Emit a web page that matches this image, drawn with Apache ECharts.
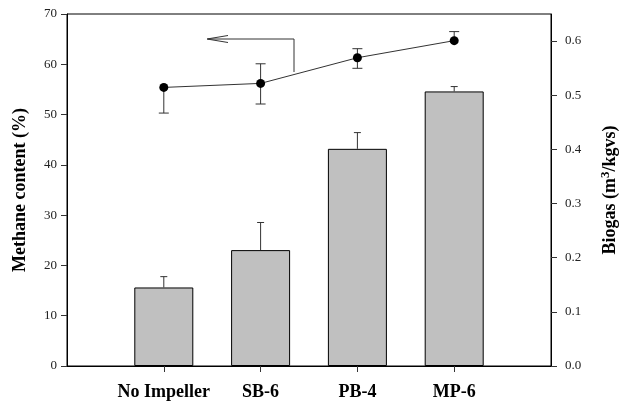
<!DOCTYPE html>
<html>
<head>
<meta charset="utf-8">
<script src="https://cdn.jsdelivr.net/npm/echarts@6/dist/echarts.min.js"></script>
<style>
  html, body { margin: 0; padding: 0; background: #fff; }
  #chart { width: 629px; height: 404px; }
</style>
</head>
<body>
<div id="chart"></div>
<script>
// impeller types, placed at x = 1..4 on a 0..5 axis
const categories = ['No Impeller', 'SB-6', 'PB-4', 'MP-6'];
const categoryPos = [1, 2, 3, 4];

// biogas yield (m3/kgVS), bars on right axis
const biogas = [0.145, 0.214, 0.401, 0.507];
const biogasErr = [0.020, 0.051, 0.030, 0.009];

// methane content (%), line on left axis
const methane = [55.4, 56.2, 61.3, 64.7];
const methaneErrLow = [5.1, 4.1, 2.1, 0];
const methaneErrHigh = [0, 3.9, 1.8, 1.8];

const leftTicks = [0, 10, 20, 30, 40, 50, 60, 70];
const rightTicks = [0, 0.1, 0.2, 0.3, 0.4, 0.5, 0.6];

const serif = '"Liberation Serif", "Times New Roman", serif';

const chart = echarts.init(document.getElementById('chart'));

// error bar drawing, shared by bars and line
function errorBars(capHalf, stroke) {
  return function (params, api) {
    const x = api.value(0);
    const lo = api.coord([x, api.value(1)]);
    const hi = api.coord([x, api.value(2)]);
    const children = [{
      type: 'line',
      shape: { x1: lo[0], y1: lo[1], x2: hi[0], y2: hi[1] },
      style: { stroke: stroke, lineWidth: 1 }
    }];
    if (api.value(3)) {
      children.push({
        type: 'line',
        shape: { x1: hi[0] - capHalf, y1: hi[1], x2: hi[0] + capHalf, y2: hi[1] },
        style: { stroke: stroke, lineWidth: 1 }
      });
    }
    if (api.value(4)) {
      children.push({
        type: 'line',
        shape: { x1: lo[0] - capHalf, y1: lo[1], x2: lo[0] + capHalf, y2: lo[1] },
        style: { stroke: stroke, lineWidth: 1 }
      });
    }
    return { type: 'group', children: children };
  };
}

const barData = categoryPos.map((p, i) => [p, biogas[i]]);
const barErrData = categoryPos.map((p, i) => [p, biogas[i], biogas[i] + biogasErr[i], 1, 0]);
const lineData = categoryPos.map((p, i) => [p, methane[i]]);
const lineErrData = categoryPos.map((p, i) => [
  p, methane[i] - methaneErrLow[i], methane[i] + methaneErrHigh[i],
  methaneErrHigh[i] > 0 ? 1 : 0, methaneErrLow[i] > 0 ? 1 : 0
]);

const option = {
  animation: false,
  backgroundColor: '#fff',
  grid: {
    left: 67, right: 73, top: 14, bottom: 38,
    show: true, borderColor: '#000', borderWidth: 1, backgroundColor: 'transparent'
  },
  xAxis: {
    type: 'value',
    min: 0, max: 5,
    splitLine: { show: false },
    axisLine: { lineStyle: { color: '#000', width: 1 } },
    axisTick: { length: 6, lineStyle: { color: '#333' }, customValues: categoryPos },
    axisLabel: {
      customValues: categoryPos,
      formatter: v => categories[Math.round(v) - 1] || '',
      fontFamily: serif, fontWeight: 'bold', fontSize: 18, color: '#000', margin: 17
    }
  },
  yAxis: [
    {
      type: 'value',
      min: 0, max: 70, interval: 10,
      name: 'Methane content (%)',
      nameLocation: 'middle', nameRotate: 90, nameGap: 38,
      nameTextStyle: { fontFamily: serif, fontWeight: 'bold', fontSize: 18, color: '#000' },
      splitLine: { show: false },
      axisLine: { show: true, lineStyle: { color: '#000' } },
      axisTick: { length: 6, lineStyle: { color: '#333' }, customValues: leftTicks },
      axisLabel: { customValues: leftTicks, fontFamily: serif, fontSize: 13, color: '#222', margin: 10 }
    },
    {
      type: 'value',
      min: 0, max: 0.65, interval: 0.1,
      position: 'right',
      name: 'Biogas (m{sup|3}/kgvs)',
      nameLocation: 'middle', nameRotate: 90, nameGap: 48,
      nameTextStyle: {
        fontFamily: serif, fontWeight: 'bold', fontSize: 18, color: '#000', lineHeight: 22,
        rich: { sup: { fontFamily: serif, fontWeight: 'bold', fontSize: 13, color: '#000', verticalAlign: 'top', lineHeight: 13 } }
      },
      splitLine: { show: false },
      axisLine: { show: true, lineStyle: { color: '#000' } },
      axisTick: { length: 6, lineStyle: { color: '#333' }, customValues: rightTicks },
      axisLabel: {
        customValues: rightTicks,
        formatter: v => v.toFixed(1),
        fontFamily: serif, fontSize: 13, color: '#222', margin: 14
      }
    }
  ],
  graphic: [
    {
      type: 'polyline',
      shape: { points: [[294, 72], [294, 39], [208, 39]] },
      style: { stroke: '#333', lineWidth: 1, fill: null }
    },
    {
      type: 'polyline',
      shape: { points: [[228, 35.5], [207, 39], [228, 42.5]] },
      style: { stroke: '#333', lineWidth: 1, fill: null }
    }
  ],
  series: [
    {
      type: 'bar',
      yAxisIndex: 1,
      data: barData,
      barWidth: 59,
      itemStyle: { color: '#c0c0c0', borderColor: '#000', borderWidth: 1 },
      z: 2
    },
    {
      type: 'custom',
      yAxisIndex: 1,
      renderItem: errorBars(3.5, '#333'),
      data: barErrData,
      z: 3
    },
    {
      type: 'custom',
      yAxisIndex: 0,
      renderItem: errorBars(5, '#333'),
      data: lineErrData,
      z: 4
    },
    {
      type: 'line',
      yAxisIndex: 0,
      data: lineData,
      symbol: 'circle',
      symbolSize: 9,
      itemStyle: { color: '#000' },
      lineStyle: { color: '#333', width: 1 },
      z: 5
    }
  ]
};

chart.setOption(option);
</script>
</body>
</html>
